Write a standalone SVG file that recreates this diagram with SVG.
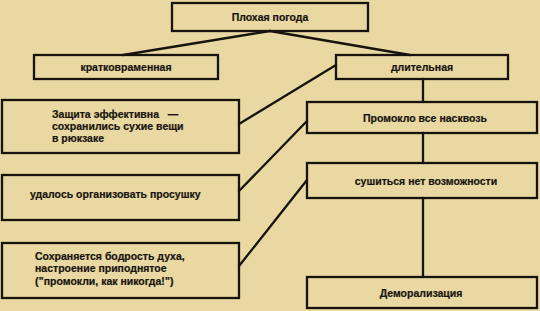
<svg xmlns="http://www.w3.org/2000/svg" width="540" height="311" viewBox="0 0 540 311">
<style>
.box{fill:none;stroke:#17130e;stroke-width:2.3}
.con{fill:none;stroke:#17130e;stroke-width:2.3;stroke-linecap:round}
.t{font-family:"Liberation Sans",Arial,sans-serif;font-weight:bold;font-size:10.5px;fill:#17130e;stroke:#17130e;stroke-width:0.2}
.c{text-anchor:middle}
</style>
<rect width="540" height="311" fill="#e9d8a2"/>
<g id="connectors">
<path class="con" d="M270 31 L123 55"/>
<path class="con" d="M270 31 L410 55"/>
<path class="con" d="M423 79 L423 102"/>
<path class="con" d="M423 133 L423 163"/>
<path class="con" d="M423 198 L423 277"/>
<path class="con" d="M336 65 L239 124"/>
<path class="con" d="M307 121 L239 191"/>
<path class="con" d="M307 180 L239 266"/>
</g>
<g id="n-pogoda">
<rect class="box" x="172" y="3" width="196" height="28"/>
<text class="t c" x="270" y="20.5">Плохая погода</text>
</g>
<g id="n-kratko">
<rect class="box" x="34" y="55" width="184" height="24"/>
<text class="t c" x="126" y="71">кратковраменная</text>
</g>
<g id="n-dlit">
<rect class="box" x="336" y="55" width="172" height="24"/>
<text class="t c" x="422" y="70.5">длительная</text>
</g>
<g id="n-zashita">
<rect class="box" x="2" y="100" width="237" height="53"/>
<text class="t" x="52" y="118">Защита эффективна&#160;&#160; —</text>
<text class="t" x="52" y="130">сохранились сухие вещи</text>
<text class="t" x="52" y="142">в рюкзаке</text>
</g>
<g id="n-prosushka">
<rect class="box" x="2" y="175" width="237" height="45"/>
<text class="t" x="30" y="198">удалось организовать просушку</text>
</g>
<g id="n-bodrost">
<rect class="box" x="2" y="243" width="237" height="55"/>
<text class="t" x="35" y="260">Сохраняется бодрость духа,</text>
<text class="t" x="35" y="272">настроение приподнятое</text>
<text class="t" x="35" y="285">(”промокли, как никогда!”)</text>
</g>
<g id="n-promoklo">
<rect class="box" x="307" y="102" width="230" height="31"/>
<text class="t c" x="425" y="122">Промокло все насквозь</text>
</g>
<g id="n-sushitsya">
<rect class="box" x="307" y="163" width="230" height="35"/>
<text class="t c" x="426" y="185">сушиться нет возможности</text>
</g>
<g id="n-demoral">
<rect class="box" x="307" y="277" width="230" height="31"/>
<text class="t c" x="421" y="297">Деморализация</text>
</g>
</svg>
